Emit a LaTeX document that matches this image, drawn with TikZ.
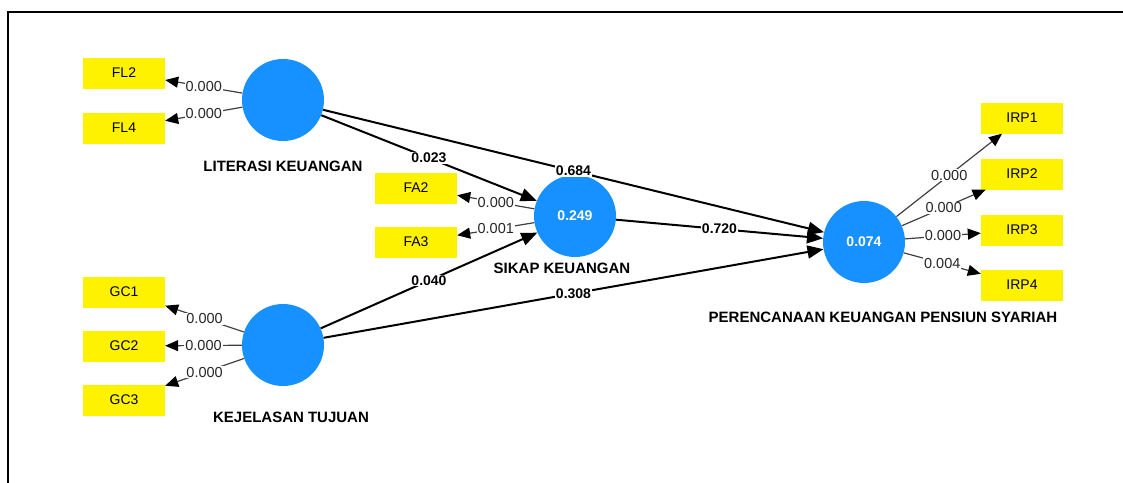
\documentclass[tikz,border=0pt]{standalone}
\usepackage{fontspec}
\setmainfont{Liberation Sans}
\usetikzlibrary{arrows.meta}
\definecolor{lvblue}{RGB}{22,145,255}
\begin{document}
\begin{tikzpicture}[x=1pt,y=-1pt,
    ind/.style={fill=yellow,minimum width=82pt,minimum height=31pt,inner sep=0pt,
      font=\fontsize{14}{16}\selectfont},
    lv/.style={circle,fill=lvblue,minimum size=82pt,inner sep=0pt,text=white,
      font=\bfseries\fontsize{14}{16}\selectfont},
    lvname/.style={font=\bfseries\fontsize{15}{17}\selectfont},
    load/.style={draw=black!75,line width=1.2pt,
      -{Triangle[length=13pt,width=11pt,fill=black,color=black]}},
    struct/.style={draw=black,line width=2pt,-{Triangle[length=16pt,width=13pt]}},
    lval/.style={fill=white,inner sep=1pt,text=black!85,font=\fontsize{14.5}{16}\selectfont},
    pval/.style={fill=white,inner sep=1pt,font=\bfseries\fontsize{14}{16}\selectfont}]
      \useasboundingbox (0,0) rectangle (1123,482);
      \draw[line width=2pt] (8,12) rectangle (1140,500);

      % latent variables
      \node[lv] (lit) at (283,100) {};
      \node[lv] (kej) at (283,345) {};
      \node[lv] (sik) at (575,216) {0.249};
      \node[lv] (per) at (864,242) {0.074};

      \node[lvname] (litname) at (283,166) {LITERASI KEUANGAN};
      \node[lvname] (kejname) at (291,417) {KEJELASAN TUJUAN};
      \node[lvname] (sikname) at (562,268) {SIKAP KEUANGAN};
      \node[lvname] (pername) at (883,317) {PERENCANAAN KEUANGAN PENSIUN SYARIAH};

      % indicators
      \foreach \n/\yy in {FL2/73,FL4/128,GC1/292,GC2/346,GC3/400}{
        \node[ind] (\n) at (124,\yy) {\n};
      }
      \foreach \n/\yy in {FA2/188,FA3/242}{
        \node[ind] (\n) at (416,\yy) {\n};
      }
      \foreach \n/\yy in {IRP1/118,IRP2/174,IRP3/230,IRP4/285}{
        \node[ind] (\n) at (1022,\yy) {\n};
      }

      % outer loadings
      \foreach \n/\v in {FL2/0.000,FL4/0.000}
      \draw[load] (lit) -- node[lval] {\v} (\n);
      \foreach \n/\v in {GC1/0.000,GC2/0.000,GC3/0.000}
      \draw[load] (kej) -- node[lval] {\v} (\n);
      \foreach \n/\v in {FA2/0.000,FA3/0.001}
      \draw[load] (sik) -- node[lval] {\v} (\n);
      \foreach \n/\v in {IRP1/0.000,IRP2/0.000,IRP3/0.000,IRP4/0.004}
      \draw[load] (per) -- node[lval] {\v} (\n);

      % inner model
      \draw[struct] (lit) -- node[pval] {0.023} (sik);
      \draw[struct] (kej) -- node[pval] {0.040} (sik);
      \draw[struct] (lit) -- node[pval] {0.684} (per);
      \draw[struct] (kej) -- node[pval] {0.308} (per);
      \draw[struct] (sik) -- node[pval] {0.720} (per);

  \end{tikzpicture}
\end{document}
